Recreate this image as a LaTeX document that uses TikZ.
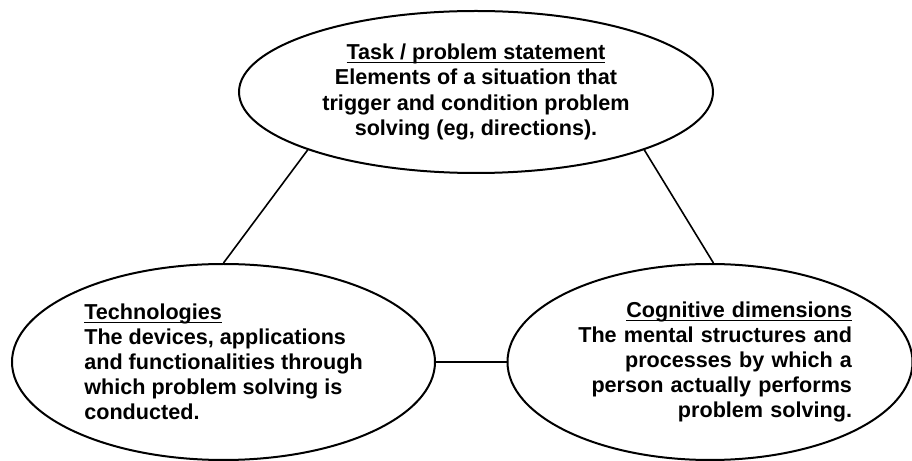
\documentclass[tikz,border=0pt]{standalone}
\usepackage{fontspec}
\setmainfont{Liberation Sans}
\usetikzlibrary{shapes.geometric}
\tikzstyle{concept} = [ellipse, draw = black, line width = 1pt, inner sep = 0pt,
	minimum height = 98pt, font = \bfseries\fontsize{10.8}{12.55}\selectfont]
\tikzstyle{link} = [line width = 0.8pt]
\newcommand{\headline}[1]{\underline{\raisebox{0pt}[\height][0pt]{#1}}}

\begin{document}
\begin{tikzpicture}[node distance = 243.25pt]
\useasboundingbox (0pt,0pt) rectangle (456pt,230.5pt);

\node (task) [concept, minimum width = 237pt, minimum height = 81pt, align = center]
	at (238pt,184.5pt)
{
	\headline{Task / problem statement}\\
	Elements of a situation that\\
	trigger and condition problem\\
	solving (eg, directions).
};

\node (tech) [concept, minimum width = 211.5pt, align = left]
	at (111.75pt,49.5pt)
{
	\headline{Technologies}\\
	The devices, applications\\
	and functionalities through\\
	which problem solving is\\
	conducted.
};

\node (cog) [concept, minimum width = 202.5pt, right of = tech,
	text width = 142pt, align = right]
{
	\headline{Cognitive dimensions}\\
	The mental structures and\\
	processes by which a\\
	person actually performs\\
	problem solving.
};

\draw [link] (task.199) -- (tech.north);
\draw [link] (task.341) -- (cog.88);
\draw [link] (tech.east) -- (cog.west);
\end{tikzpicture}
\end{document}
